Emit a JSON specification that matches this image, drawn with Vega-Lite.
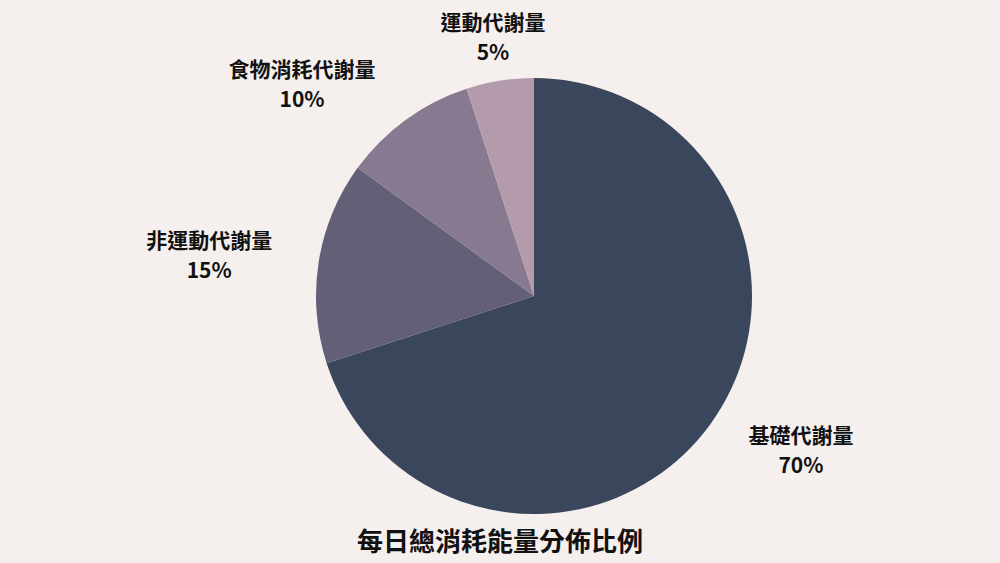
{
  "$schema": "https://vega.github.io/schema/vega-lite/v6.json",
  "autosize": "none",
  "width": 800,
  "height": 500,
  "padding": {"left": 134, "top": 46, "right": 66, "bottom": 17},
  "background": "#f5efed",
  "config": {
    "view": {"stroke": null},
    "text": {"radius": 262, "align": "center", "baseline": "middle", "lineBreak": "\n", "lineHeight": 30, "dy": -13, "font": "Noto Sans CJK TC", "fontSize": 21, "fontWeight": "bold", "color": "#111111"}
  },
  "title": {
    "text": "每日總消耗能量分佈比例",
    "orient": "bottom",
    "anchor": "middle",
    "offset": -16,
    "dx": -34,
    "font": "Noto Sans CJK TC",
    "fontSize": 26,
    "fontWeight": "bold",
    "color": "#111111"
  },
  "data": {
    "values": [
      {"category": "基礎代謝量", "value": 70},
      {"category": "非運動代謝量", "value": 15},
      {"category": "食物消耗代謝量", "value": 10},
      {"category": "運動代謝量", "value": 5}
    ]
  },
  "transform": [
    {"calculate": "datum.category + '\\n' + datum.value + '%'", "as": "label"}
  ],
  "encoding": {
    "theta": {"field": "value", "type": "quantitative", "stack": true},
    "order": {"field": "value", "sort": "descending"}
  },
  "layer": [
    {
      "mark": {"type": "arc", "outerRadius": 218},
      "encoding": {
        "color": {
          "field": "category",
          "type": "nominal",
          "legend": null,
          "scale": {
            "domain": ["基礎代謝量", "非運動代謝量", "食物消耗代謝量", "運動代謝量"],
            "range": ["#3a465c", "#625f77", "#877a90", "#b49bab"]
          }
        }
      }
    },
    {
      "mark": {"type": "text", "dx": 55},
      "encoding": {
        "text": {"condition": {"test": "datum.category === '基礎代謝量'", "field": "label"}, "value": ""}
      }
    },
    {
      "mark": {"type": "text", "dx": -66},
      "encoding": {
        "text": {"condition": {"test": "datum.category === '非運動代謝量'", "field": "label"}, "value": ""}
      }
    },
    {
      "mark": {"type": "text", "dx": -78},
      "encoding": {
        "text": {"condition": {"test": "datum.category === '食物消耗代謝量'", "field": "label"}, "value": ""}
      }
    },
    {
      "mark": {"type": "text", "dx": 0},
      "encoding": {
        "text": {"condition": {"test": "datum.category === '運動代謝量'", "field": "label"}, "value": ""}
      }
    }
  ]
}
